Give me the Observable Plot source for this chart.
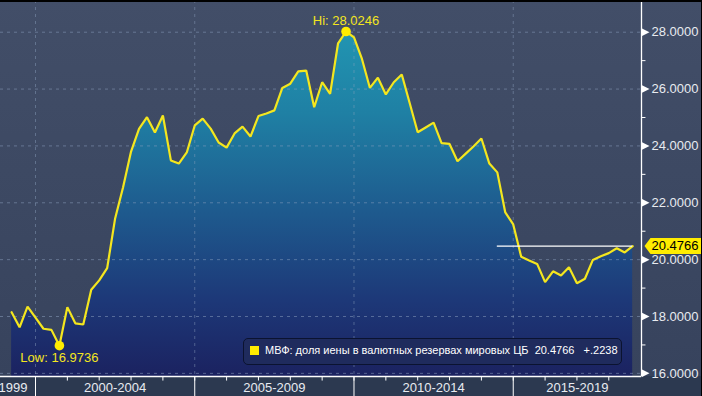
<!DOCTYPE html>
<html><head><meta charset="utf-8">
<script src="https://cdn.jsdelivr.net/npm/d3@7"></script>
<script src="https://cdn.jsdelivr.net/npm/@observablehq/plot@0.6"></script>
<style>
html,body{margin:0;padding:0;background:#3c4862;}
#wrap{position:relative;width:702px;height:396px;overflow:hidden;font-family:"Liberation Sans",Arial,sans-serif;
 background:linear-gradient(to bottom,#424e68 0px,#37435d 376px,#2c3950 376px,#2c3950 396px);}
#wrap svg{display:block;}
#legend{position:absolute;left:243px;top:338px;width:379px;height:27px;box-sizing:border-box;background:#1f2b5d;border:1.5px solid #0b1330;border-radius:5px;color:#fff;font-size:11px;white-space:pre;}
#legend .sw{position:absolute;left:6px;top:7px;width:9px;height:9px;background:#ffec00;}
#legend .tx{position:absolute;left:21px;top:5px;}
#border{position:absolute;left:0;top:0;width:702px;height:396px;box-sizing:border-box;border-top:2px solid #000;border-right:1px solid #000;pointer-events:none}
</style></head><body>
<div id="wrap"><div id="border"></div></div>
<script>
// ---- data (quarterly, 1999 Q1 .. 2018 Q3, plotted at quarter end) ----
const firstYear = 1999;
const values = [
  18.15, 17.62, 18.35, 17.96, 17.57, 17.53, 16.9736, 18.33,
  17.76, 17.72, 18.94, 19.27, 19.70, 21.45, 22.55, 23.80,
  24.60, 25.01, 24.47, 25.07, 23.49, 23.38, 23.77, 24.72,
  24.96, 24.61, 24.12, 23.94, 24.44, 24.68, 24.33, 25.05,
  25.14, 25.25, 26.04, 26.19, 26.62, 26.65, 25.36, 26.24,
  25.83, 27.61, 28.0246, 27.82, 27.06, 26.04, 26.40, 25.81,
  26.24, 26.51, 25.50, 24.48, 24.65, 24.82, 24.10, 24.07,
  23.46, 23.72, 23.98, 24.26, 23.38, 23.07, 21.66, 21.24,
  20.10, 19.97, 19.85, 19.21, 19.59, 19.44, 19.73, 19.17,
  19.33, 19.99, 20.12, 20.23, 20.40, 20.2528, 20.4766
];
const seriesName = "МВФ: доля иены в валютных резервах мировых ЦБ";
const yTicks = [16, 18, 20, 22, 24, 26, 28];
const yMinor = [17, 19, 21, 23, 25, 27];
const yearTicks = [2000,2001,2002,2003,2004,2005,2006,2007,2008,2009,2010,2011,2012,2013,2014,2015,2016,2017,2018];
const periodBreaks = [2000, 2005, 2010, 2015];
const periodLabels = ["2000-2004", "2005-2009", "2010-2014", "2015-2019"];
const periodStarts = [2000, 2005, 2010, 2015];
const periodEnds = [2005, 2010, 2015, 2019.027];
const firstLabel = "1999";
const lastLineStart = 2014.5;

// ---- build ----
const data = values.map((v, i) => ({t: firstYear + (i + 1) * 0.25, v}));
const xMin = 1998.901, xMax = 2019.027;
const yMin = 15.89, yMax = 29.115;
const last = data[data.length - 1];
const prev = data[data.length - 2];
const hi = data.reduce((a, b) => (b.v > a.v ? b : a));
const lo = data.reduce((a, b) => (b.v < a.v ? b : a));
const fmt4 = d3.format(".4f");
const change = last.v - prev.v;
const changeStr = (change >= 0 ? "+" : "-") + d3.format(".4f")(Math.abs(change)).replace(/^0/, "");

const yellow = "#f4e61e";
const txt = "#e8ebf0";
const grid = "#8fa4c2";

const rightTri = {draw(c){ c.moveTo(0,-4); c.lineTo(8,0); c.lineTo(0,4); c.closePath(); }};
const tag = {draw(c){ c.moveTo(3,0); c.lineTo(9,-8); c.lineTo(62,-8); c.lineTo(62,8); c.lineTo(9,8); c.closePath(); }};

const periods = periodLabels.map((label, i) => ({label, mid: (periodStarts[i] + periodEnds[i]) / 2}));

const chart = Plot.plot({
  width: 702, height: 396,
  marginTop: 0, marginBottom: 20, marginLeft: 0, marginRight: 61,
  x: {type: "linear", domain: [xMin, xMax], axis: null},
  y: {domain: [yMin, yMax], axis: null},
  style: {background: "transparent", fontFamily: "'Liberation Sans', Arial, sans-serif", fontSize: "13px", overflow: "visible"},
  marks: [
    Plot.areaY(data, {x: "t", y1: yMin, y2: "v", fill: "url(#areaGrad)"}),
    Plot.ruleY(yTicks, {y: d => d, stroke: grid, strokeOpacity: 0.5, strokeDasharray: "3,4"}),
    Plot.ruleX(periodBreaks, {x: d => d, stroke: grid, strokeOpacity: 0.45, strokeDasharray: "3,4"}),
    Plot.lineY(data, {x: "t", y: "v", stroke: yellow, strokeWidth: 2.2, strokeLinejoin: "miter"}),
    Plot.ruleY([last], {y: "v", x1: lastLineStart, x2: "t", stroke: "#ffffff", strokeWidth: 1.3}),
    Plot.dot([hi, lo], {x: "t", y: "v", r: 4.8, fill: "#ffec00", stroke: "none"}),
    Plot.text([hi], {x: "t", y: "v", text: d => "Hi: " + fmt4(d.v), dy: -11, fill: yellow, fontSize: 13}),
    Plot.text([lo], {x: "t", y: "v", text: d => "Low: " + fmt4(d.v), dy: 12, fill: yellow, fontSize: 13}),
    // axes
    Plot.ruleY([yMin], {y: d => d, x1: xMin, x2: xMax, stroke: "#ffffff", strokeWidth: 1.3}),
    Plot.ruleX([xMax], {x: d => d, y1: yMin, y2: yMax, stroke: "#ffffff", strokeWidth: 1.3}),
    Plot.ruleX(yearTicks, {x: d => d, y1: yMin, y2: yMin - 0.16, stroke: "#ffffff", strokeWidth: 1}),
    Plot.ruleX(periodBreaks, {x: d => d, y1: yMin, y2: yMin - 0.75, stroke: "#ffffff", strokeWidth: 1}),
    Plot.text(periods, {x: "mid", y: yMin, text: "label", dy: 11, fill: txt, fontSize: 13}),
    Plot.text([firstLabel], {x: periodBreaks[0], y: yMin, text: d => d, dy: 11, dx: -8, textAnchor: "end", fill: txt, fontSize: 13}),
    Plot.ruleY(yMinor, {y: d => d, x1: xMax, x2: xMax + 0.14, stroke: "#ffffff", strokeWidth: 1}),
    Plot.dot(yTicks, {y: d => d, x: () => xMax, symbol: rightTri, fill: "#ffffff", stroke: "none", r: 3}),
    Plot.text(yTicks, {y: d => d, x: () => xMax, text: d => fmt4(d), dx: 10, textAnchor: "start", fill: txt, fontSize: 13}),
    Plot.dot([last], {y: "v", x: () => xMax, symbol: tag, fill: "#ffec00", stroke: "none", r: 3}),
    Plot.text([last], {y: "v", x: () => xMax, text: d => fmt4(d.v), dx: 10, textAnchor: "start", fill: "#000000", fontSize: 13})
  ]
});

const ns = "http://www.w3.org/2000/svg";
const defs = document.createElementNS(ns, "defs");
defs.innerHTML = `<linearGradient id="areaGrad" gradientUnits="userSpaceOnUse" x1="0" y1="0" x2="0" y2="376">
  <stop offset="0" stop-color="#229db7"/>
  <stop offset="0.3" stop-color="#1f80a4"/>
  <stop offset="0.55" stop-color="#1e5c8f"/>
  <stop offset="0.8" stop-color="#1d3878"/>
  <stop offset="1" stop-color="#1b2260"/>
</linearGradient>`;
chart.insertBefore(defs, chart.firstChild);

const wrap = document.getElementById("wrap");
wrap.insertBefore(chart, wrap.firstChild);

const legend = document.createElement("div");
legend.id = "legend";
legend.innerHTML = `<div class="sw"></div><div class="tx"></div>`;
legend.querySelector(".tx").textContent = `${seriesName}  ${fmt4(last.v)}   ${changeStr}`;
wrap.insertBefore(legend, document.getElementById("border"));
</script>
</body></html>
